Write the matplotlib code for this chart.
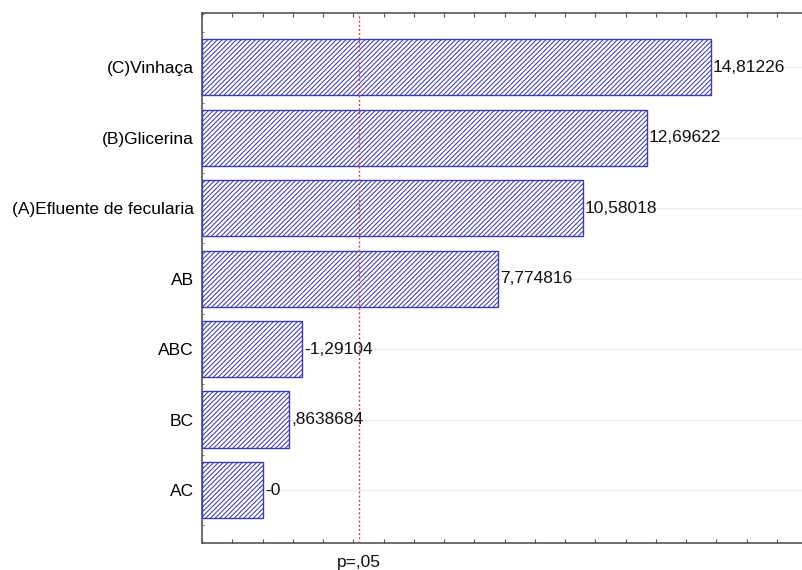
import numpy as np
import matplotlib
matplotlib.use('Agg')
import matplotlib.pyplot as plt
from matplotlib.ticker import MultipleLocator

matplotlib.rcParams['font.family'] = ['Liberation Sans', 'DejaVu Sans']
matplotlib.rcParams['hatch.linewidth'] = 0.75

# Standardized effects (sign kept for the labels, bars use |effect|)
terms = ['(C)Vinhaça', '(B)Glicerina', '(A)Efluente de fecularia',
         'AB', 'ABC', 'BC', 'AC']
effects = [14.81226, 12.69622, 10.58018, 7.774816, -1.29104, 0.8638684, -0.0]
effect_labels = ['14,81226', '12,69622', '10,58018', '7,774816',
                 '-1,29104', ',8638684', '-0']
t_crit = 3.182446
p_label = 'p=,05'

X_MIN, X_MAX = -2.0, 17.83
BAR_BLUE = '#3c3cb0'
FS = 12.5

fig = plt.figure(figsize=(8.02, 5.70), dpi=100)
ax = fig.add_axes([0.2519, 0.0474, 0.7481, 0.9298])

ypos = np.arange(len(terms))
lengths = np.abs(effects) - X_MIN
ax.barh(ypos, lengths, left=X_MIN, height=0.8, color='white',
        edgecolor=BAR_BLUE, hatch='///////', linewidth=1.0, zorder=3)

for y, v, lab in zip(ypos, effects, effect_labels):
    ax.text(abs(v) + 0.08, y, lab, ha='left', va='center',
            fontsize=FS, color='#111111', zorder=5)

ax.axvline(t_crit, color='#d8404e', linestyle=(0, (1.5, 1.5)),
           linewidth=1.0, zorder=4)
ax.text(t_crit, -0.036, p_label, transform=ax.get_xaxis_transform(),
        ha='center', va='center', fontsize=FS, color='#111111')

ax.set_xlim(X_MIN, X_MAX)
ax.set_ylim(len(terms) - 0.25, -0.77)
ax.set_yticks(ypos)
ax.set_yticklabels(terms, fontsize=FS)
ax.yaxis.set_minor_locator(MultipleLocator(0.25))
ax.grid(True, axis='y', color='#ececec', linewidth=0.8, zorder=0)

ax.xaxis.set_major_locator(MultipleLocator(1))
ax.tick_params(axis='x', which='major', direction='in', length=3,
               top=True, bottom=True, labelbottom=False, color='#555555')
ax.tick_params(axis='y', which='major', direction='in', length=2,
               pad=6, color='#555555')
ax.tick_params(axis='y', which='minor', direction='in', length=1.5,
               color='#555555')

ax.spines['right'].set_visible(False)
for s in ('left', 'top', 'bottom'):
    ax.spines[s].set_color('#555555')
    ax.spines[s].set_linewidth(1.2)

fig.savefig('out.png', dpi=100, facecolor='white')
